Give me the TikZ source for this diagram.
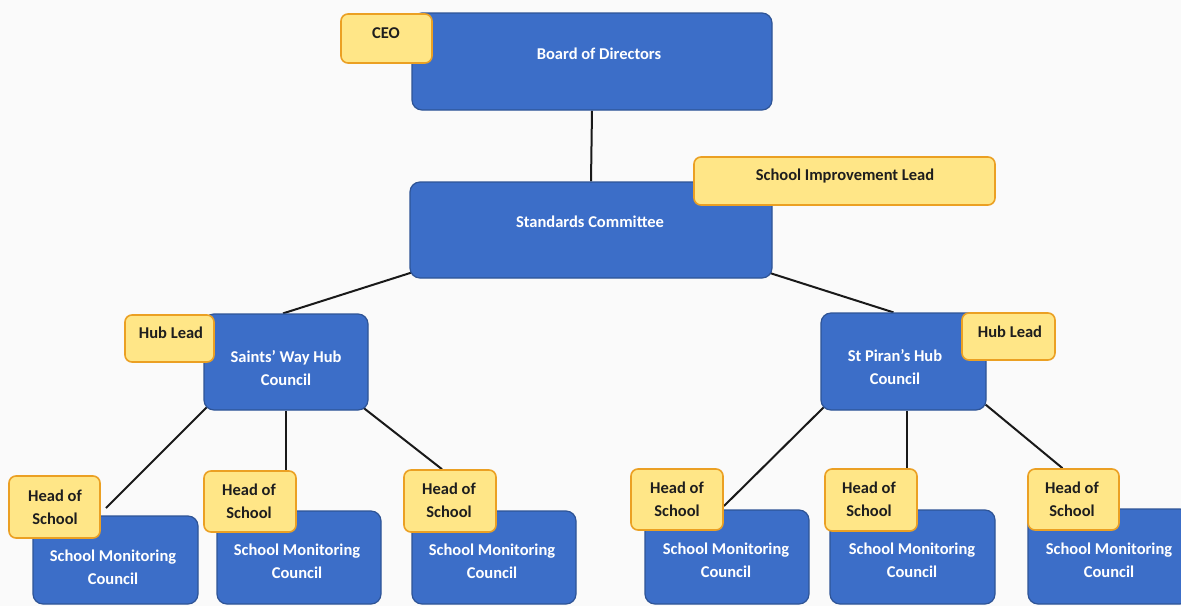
\documentclass[tikz,border=0pt]{standalone}
\usepackage{fontspec}
\setmainfont{Carlito}
\pgfdeclarelayer{bg}
\pgfdeclarelayer{lines}
\pgfsetlayers{bg,lines,main}
\definecolor{boxblue}{RGB}{60,110,200}
\definecolor{boxedge}{RGB}{46,84,150}
\definecolor{noteyellow}{RGB}{255,230,135}
\definecolor{noteedge}{RGB}{235,160,35}
\definecolor{notetext}{RGB}{30,30,30}
\definecolor{paper}{RGB}{250,250,250}
\tikzset{
  bluebox/.style={draw=boxedge, fill=boxblue, line width=1.2pt, rounded corners=10pt, inner sep=0pt},
  notebox/.style={draw=noteedge, fill=noteyellow, line width=1.6pt, rounded corners=7pt, inner sep=0pt},
  wtxt/.style={text=white, font=\fontsize{16.5}{23}\selectfont\bfseries, align=center, inner sep=0pt},
  ytxt/.style={text=notetext, font=\fontsize{16.5}{23}\selectfont\bfseries, align=center, inner sep=0pt},
  link/.style={draw=black!90, line width=2pt}
}
\begin{document}
\begin{tikzpicture}[x=1pt,y=-1pt]
\begin{pgfonlayer}{bg}
\fill[paper] (0,0) rectangle (1181,606);
\end{pgfonlayer}
\useasboundingbox (0,0) rectangle (1181,606);
\clip (0,0) rectangle (1181,606);

% blue boxes
\node[bluebox, minimum width=360, minimum height=97] (board) at (592,61.5) {};
\node[wtxt] (boardt) at (599,54) {Board of Directors};
\node[bluebox, minimum width=362, minimum height=96] (std) at (591,230) {};
\node[wtxt] (stdt) at (590,222) {Standards Committee};
\node[bluebox, minimum width=164, minimum height=96] (saints) at (286,362) {};
\node[wtxt] (saintst) at (286,368.5) {Saints’ Way Hub\\Council};
\node[bluebox, minimum width=165, minimum height=97] (piran) at (903.5,361.5) {};
\node[wtxt] (pirant) at (895,367.5) {St Piran’s Hub\\Council};

\node[bluebox, minimum width=165, minimum height=88] (smc1) at (115.5,560) {};
\node[wtxt] (smc1t) at (113,567) {School Monitoring\\Council};
\node[bluebox, minimum width=164, minimum height=93] (smc2) at (299,557.5) {};
\node[wtxt] (smc2t) at (297,561.5) {School Monitoring\\Council};
\node[bluebox, minimum width=164, minimum height=93] (smc3) at (494,557.5) {};
\node[wtxt] (smc3t) at (492,561.5) {School Monitoring\\Council};
\node[bluebox, minimum width=164, minimum height=94] (smc4) at (727,557) {};
\node[wtxt] (smc4t) at (726,560.5) {School Monitoring\\Council};
\node[bluebox, minimum width=165, minimum height=94] (smc5) at (912.5,557) {};
\node[wtxt] (smc5t) at (912,560.5) {School Monitoring\\Council};
\node[bluebox, minimum width=162, minimum height=95] (smc6) at (1109,556.5) {};
\node[wtxt] (smc6t) at (1109,560.5) {School Monitoring\\Council};

% yellow notes
\node[notebox, minimum width=91, minimum height=49] (ceo) at (386.5,38.5) {};
\node[ytxt] (ceot) at (386,33) {CEO};
\node[notebox, minimum width=301, minimum height=48] (sil) at (844.5,181) {};
\node[ytxt] (silt) at (845,176) {School Improvement Lead};
\node[notebox, minimum width=89, minimum height=47] (hub1) at (169.5,338.5) {};
\node[ytxt] (hub1t) at (171,333) {Hub Lead};
\node[notebox, minimum width=93, minimum height=47] (hub2) at (1008.5,336.5) {};
\node[ytxt] (hub2t) at (1010,332) {Hub Lead};

\node[notebox, minimum width=91, minimum height=62] (hos1) at (54.5,507) {};
\node[ytxt] (hos1t) at (55,507) {Head of\\School};
\node[notebox, minimum width=92, minimum height=61] (hos2) at (250,501.5) {};
\node[ytxt] (hos2t) at (249,501) {Head of\\School};
\node[notebox, minimum width=92, minimum height=62] (hos3) at (450,501) {};
\node[ytxt] (hos3t) at (449,500.5) {Head of\\School};
\node[notebox, minimum width=92, minimum height=61] (hos4) at (677,499.5) {};
\node[ytxt] (hos4t) at (677,499.5) {Head of\\School};
\node[notebox, minimum width=92, minimum height=62] (hos5) at (871,500) {};
\node[ytxt] (hos5t) at (869,499.5) {Head of\\School};
\node[notebox, minimum width=91, minimum height=61] (hos6) at (1073.5,499.5) {};
\node[ytxt] (hos6t) at (1072,499.5) {Head of\\School};

\coordinate (e1) at (106,508);
\coordinate (e4) at (724,506);

\begin{pgfonlayer}{lines}
\draw[link] (board.south) -- (std.north);
\draw[link] ([xshift=2pt,yshift=6pt]std.south west) -- ([xshift=-3pt]saints.north);
\draw[link] ([xshift=-4pt,yshift=6pt]std.south east) -- ([xshift=-10pt]piran.north);
\draw[link] ([xshift=5pt,yshift=5pt]saints.south west) -- (e1);
\draw[link] (saints.south) -- (saints.south |- hos2.north);
\draw[link] ([xshift=-8pt,yshift=5pt]saints.south east) -- ([xshift=-8pt]hos3.north);
\draw[link] ([xshift=5pt,yshift=5pt]piran.south west) -- (e4);
\draw[link] ([xshift=3.5pt]piran.south) -- ([xshift=3.5pt]piran.south |- hos5.north);
\draw[link] ([xshift=-1pt,yshift=6pt]piran.south east) -- ([xshift=-11pt]hos6.north);
\end{pgfonlayer}
\end{tikzpicture}
\end{document}
